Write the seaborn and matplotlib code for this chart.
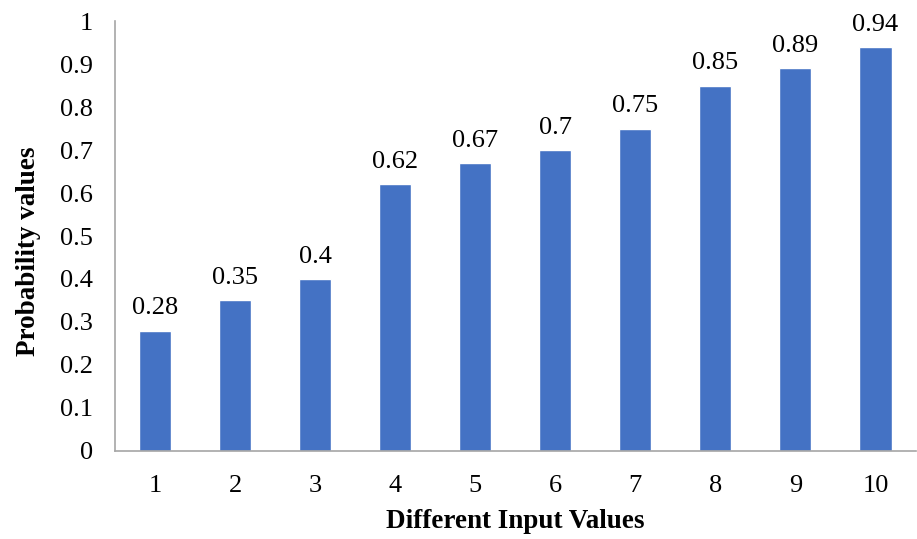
import matplotlib
matplotlib.use("Agg")
import matplotlib.pyplot as plt
import seaborn as sns
import pandas as pd
from matplotlib.ticker import FixedLocator

categories = ["1", "2", "3", "4", "5", "6", "7", "8", "9", "10"]
values = [0.28, 0.35, 0.4, 0.62, 0.67, 0.7, 0.75, 0.85, 0.89, 0.94]
labels = ["0.28", "0.35", "0.4", "0.62", "0.67", "0.7", "0.75", "0.85", "0.89", "0.94"]
ytick_labels = ["0", "0.1", "0.2", "0.3", "0.4", "0.5", "0.6", "0.7", "0.8", "0.9", "1"]

sns.set_style("white")
plt.rcParams["font.family"] = ["Liberation Serif", "DejaVu Serif"]
plt.rcParams["text.color"] = "black"
plt.rcParams["axes.labelcolor"] = "black"
plt.rcParams["xtick.color"] = "black"
plt.rcParams["ytick.color"] = "black"

FS = 19

df = pd.DataFrame({"x": categories, "y": values})
fig = plt.figure(figsize=(9.17, 5.39), dpi=100)
ax = fig.add_axes([0.1254, 0.1633, 0.873, 0.7977])
sns.barplot(data=df, x="x", y="y", color="#4472C4", saturation=1, width=0.4, ax=ax)

for i, (v, t) in enumerate(zip(values, labels)):
    ax.text(i, v + 0.026, t, ha="center", va="bottom", fontsize=FS, color="black")

ax.set_xlim(-0.5, len(categories) - 0.5)
ax.set_ylim(0, 1)
ax.set_yticks([i / 10 for i in range(11)])
ax.set_yticklabels(ytick_labels)
ax.xaxis.set_minor_locator(FixedLocator([i - 0.5 for i in range(len(categories) + 1)]))
ax.tick_params(axis="x", which="major", length=0, labelsize=FS, pad=17)
ax.tick_params(axis="x", which="minor", length=6, width=1, color="#A6A6A6", direction="out")
ax.tick_params(axis="y", length=6, width=1, color="#A6A6A6", labelcolor="black",
               direction="out", labelsize=FS, pad=10)

for s in ["top", "right"]:
    ax.spines[s].set_visible(False)
for s in ["left", "bottom"]:
    ax.spines[s].set_color("#A6A6A6")
    ax.spines[s].set_linewidth(1.2)

ax.set_xlabel("Different Input Values", fontsize=19.5, fontweight="bold", labelpad=9)
ax.set_ylabel("Probability values", fontsize=19.5, fontweight="bold")
ax.yaxis.set_label_coords(-0.093, 0.465)

fig.savefig("out.png", dpi=100)
